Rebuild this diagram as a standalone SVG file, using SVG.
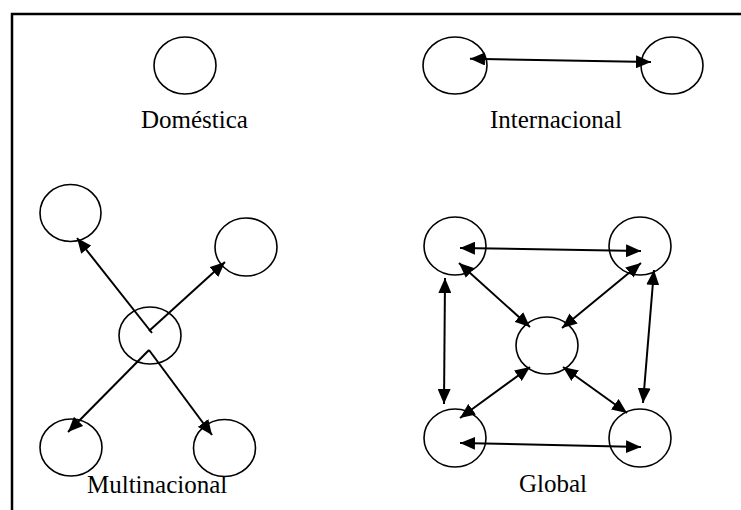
<svg xmlns="http://www.w3.org/2000/svg" width="741" height="510" viewBox="0 0 741 510">
<defs>
<style>
.n ellipse{fill:#fff;stroke:#000;stroke-width:1.6}
.lbl{font-family:"Liberation Serif","Times New Roman",serif;font-size:25px;fill:#000}
#connectors line{stroke:#000;stroke-width:2;marker-end:url(#ah)}
#connectors line.d{marker-start:url(#ah)}
.frame{stroke:#000;stroke-width:2.5;fill:none}
</style>
<marker id="ah" markerUnits="userSpaceOnUse" markerWidth="16" markerHeight="13" refX="15" refY="6.5" orient="auto-start-reverse" viewBox="0 0 16 13">
<path d="M0,0 L15,6.5 L0,13 z" fill="#000"/>
</marker>
</defs>
<rect width="741" height="510" fill="#fff"/>
<path class="frame" d="M12,510 L12,14 L741,14"/>

<g id="domestica" class="n"><ellipse cx="185" cy="65.5" rx="31" ry="28.5"/><text class="lbl" x="141" y="128">Doméstica</text></g>

<g id="int-a" class="n"><ellipse cx="455" cy="65.5" rx="32" ry="28.5"/></g>
<g id="int-b" class="n"><ellipse cx="672" cy="65.5" rx="31" ry="28.5"/></g>
<text class="lbl" x="490" y="128">Internacional</text>

<g id="multi-tl" class="n"><ellipse cx="70.5" cy="213" rx="30.5" ry="28.5"/></g>
<g id="multi-tr" class="n"><ellipse cx="246" cy="247" rx="31" ry="29"/></g>
<g id="multi-c" class="n"><ellipse cx="150" cy="335.5" rx="31" ry="28.5"/></g>
<g id="multi-bl" class="n"><ellipse cx="71" cy="447.5" rx="31" ry="28.5"/></g>
<g id="multi-br" class="n"><ellipse cx="224.5" cy="448" rx="31" ry="28.5"/></g>
<text class="lbl" x="87" y="493">Multinacional</text>

<g id="global-tl" class="n"><ellipse cx="455" cy="246" rx="31" ry="29"/></g>
<g id="global-tr" class="n"><ellipse cx="640" cy="246" rx="31" ry="29"/></g>
<g id="global-c" class="n"><ellipse cx="547" cy="345.5" rx="31" ry="28.5"/></g>
<g id="global-bl" class="n"><ellipse cx="455" cy="438" rx="31" ry="29"/></g>
<g id="global-br" class="n"><ellipse cx="640" cy="438" rx="31" ry="29"/></g>
<text class="lbl" x="519" y="492">Global</text>

<g id="connectors">
<line class="d" x1="470" y1="58.7" x2="651" y2="62"/>

<line x1="152" y1="333" x2="77" y2="238"/>
<line x1="149" y1="331" x2="225" y2="262"/>
<line x1="149" y1="350" x2="68" y2="432"/>
<line x1="149" y1="350" x2="212" y2="435"/>

<line class="d" x1="460" y1="248" x2="641" y2="251"/>
<line class="d" x1="460" y1="443" x2="641" y2="447"/>
<line class="d" x1="445" y1="278" x2="444" y2="404"/>
<line class="d" x1="654" y1="270" x2="643" y2="403"/>
<line class="d" x1="459" y1="263" x2="530" y2="327"/>
<line class="d" x1="641" y1="263" x2="562" y2="328"/>
<line class="d" x1="460" y1="418" x2="530" y2="367"/>
<line class="d" x1="563" y1="367" x2="627" y2="413"/>
</g>
</svg>
